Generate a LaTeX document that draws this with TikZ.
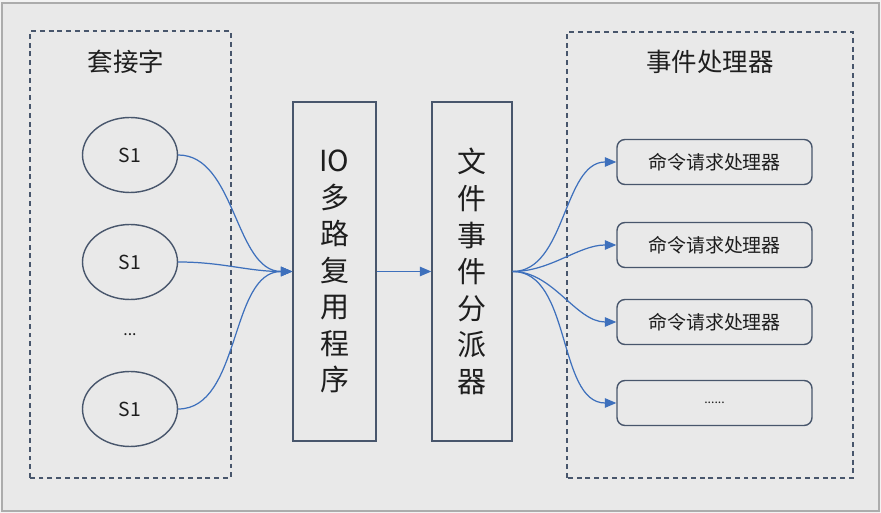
\documentclass[tikz,border=0pt]{standalone}
\usepackage{fontspec}
\setmainfont{Noto Sans CJK SC}
\usetikzlibrary{arrows.meta,shapes.geometric}
\definecolor{evpage}{RGB}{243,243,243}
\definecolor{evbg}{RGB}{233,233,233}
\definecolor{evframe}{RGB}{172,172,172}
\definecolor{evline}{RGB}{72,86,108}
\definecolor{evarrow}{RGB}{62,112,188}
\definecolor{evink}{RGB}{30,30,30}

\begin{document}
\begin{tikzpicture}[
  x=0.02cm, y=0.02cm,
  font=\normalsize,
  group/.style={draw=evline, line width=0.8pt, dash pattern=on 2.8pt off 2.2pt},
  title/.style={text=evink, font=\fontsize{14.5}{17}\selectfont},
  sock/.style={ellipse, draw=evline, line width=0.8pt, minimum width=1.9cm, minimum height=1.5cm, inner sep=0pt, text=evink, font=\fontsize{11}{13}\selectfont},
  column/.style={draw=evline, line width=0.8pt, minimum height=6.78cm, inner sep=0pt, align=center, text=evink, font=\fontsize{16.5}{20.8}\selectfont},
  handler/.style={draw=evline, line width=0.8pt, rounded corners=4.5pt, minimum width=3.9cm, minimum height=0.9cm, inner sep=0pt, text=evink, font=\fontsize{10.8}{13}\selectfont},
  flow/.style={-{Triangle[length=2.3mm,width=1.9mm]}, draw=evarrow, line width=0.7pt}
]
\fill[evpage] (0,0) rectangle (881,513);
\draw[evframe, fill=evbg, line width=0.6pt] (2,2) rectangle (879,510);

% containers
\draw[group] (30,35) rectangle (231,482);
\draw[group] (567,35) rectangle (853,481);
\node[title] (socktitle) at (126,451) {套接字};
\node[title] (handtitle) at (710,451) {事件处理器};

% sockets
\node[sock] (s1) at (130,358) {S1};
\node[sock] (s2) at (130,251) {S1};
\node[text=evink, font=\fontsize{9}{11}\selectfont] (sdots) at (130,178) {...};
\node[sock] (s3) at (130,104) {S1};

% multiplexer and dispatcher
\node[column, minimum width=1.66cm] (mux) at (334.5,241.5) {IO\\多\\路\\复\\用\\程\\序};
\node[column, minimum width=1.6cm] (disp) at (472,241.5) {文\\件\\事\\件\\分\\派\\器};

% handlers
\node[handler] (h1) at (714.5,351) {命令请求处理器};
\node[handler] (h2) at (714.5,268) {命令请求处理器};
\node[handler] (h3) at (714.5,191) {命令请求处理器};
\node[handler, font=\fontsize{7}{9}\selectfont] (h4) at (714.5,110) {......};

\draw[flow] (s1.east) to[out=0, in=180, looseness=0.9] (mux.west);
\draw[flow] (s2.east) to[out=0, in=180] (mux.west);
\draw[flow] (s3.east) to[out=0, in=180, looseness=0.9] (mux.west);

\draw[flow] (mux.east) -- (disp.west);

\foreach \h in {h1,h2,h3,h4}
  \draw[flow] (disp.east) to[out=0, in=180, looseness=0.9] (\h.west);
\end{tikzpicture}
\end{document}
